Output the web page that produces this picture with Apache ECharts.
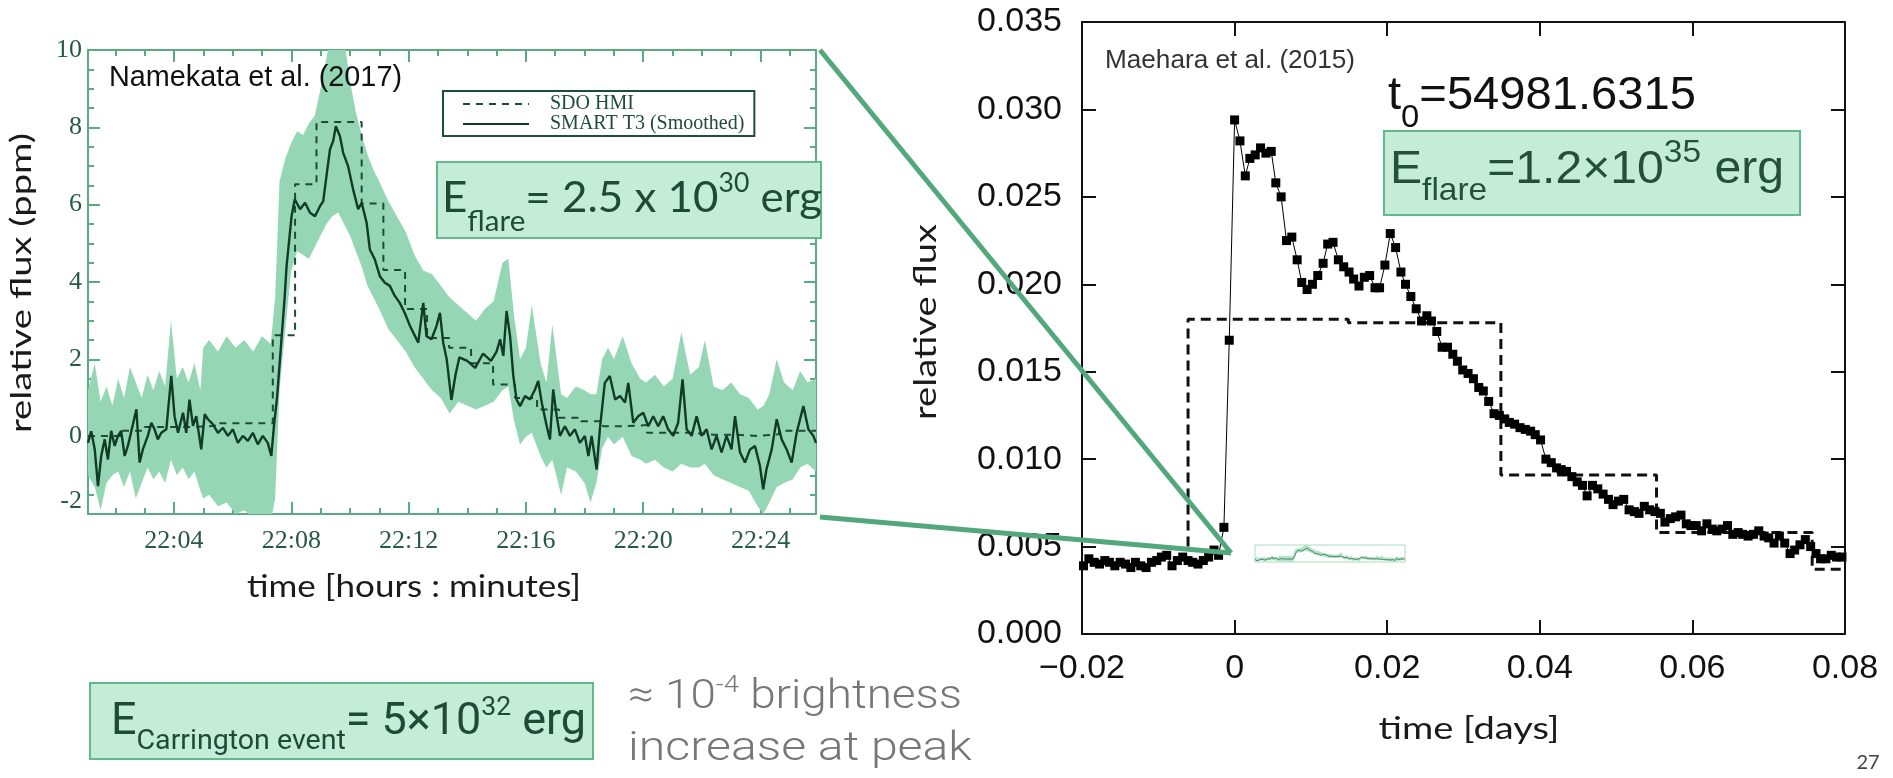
<!DOCTYPE html>
<html>
<head>
<meta charset="utf-8">
<title>Flare light curves</title>
<script src="https://cdn.jsdelivr.net/npm/echarts@6/dist/echarts.min.js"></script>
<style>
  html, body { margin: 0; padding: 0; background: #fff; }
  #main { width: 1893px; height: 778px; }
</style>
</head>
<body>
<div id="main"></div>
<script>
// left panel (Namekata et al. 2017): time in minutes after 22:00, flux in ppm
const smoothT = [
  1.07,1.18,1.3,1.41,1.52,1.64,1.75,1.86,1.98,2.09,
  2.2,2.32,2.43,2.55,2.72,2.83,2.94,3.11,3.23,3.34,
  3.45,3.57,3.74,3.91,4.02,4.14,4.31,4.42,4.53,4.65,
  4.76,4.93,5.05,5.16,5.33,5.5,5.67,5.84,6.01,6.18,
  6.35,6.52,6.69,6.86,7.03,7.2,7.32,7.41,7.52,7.64,
  7.77,7.84,8.01,8.12,8.3,8.47,8.64,8.81,8.98,9.09,
  9.2,9.32,9.43,9.52,9.66,9.77,9.94,10.11,10.28,10.4,
  10.57,10.68,10.85,11.02,11.19,11.36,11.53,11.7,11.87,12.05,
  12.16,12.33,12.5,12.61,12.78,12.95,13.07,13.18,13.3,13.46,
  13.6,13.73,14.0,14.27,14.54,14.81,15.0,15.12,15.23,15.34,
  15.46,15.57,15.68,15.8,15.97,16.14,16.31,16.42,16.54,16.71,
  16.82,16.93,17.05,17.16,17.33,17.5,17.67,17.84,18.01,18.13,
  18.24,18.41,18.52,18.69,18.86,19.04,19.21,19.38,19.49,19.66,
  19.83,20.0,20.17,20.34,20.51,20.68,20.85,21.02,21.19,21.34,
  21.48,21.65,21.82,21.99,22.16,22.33,22.5,22.67,22.84,23.01,
  23.13,23.3,23.47,23.64,23.81,23.98,24.09,24.2,24.38,24.55,
  24.72,24.89,25.06,25.23,25.46,25.63,25.8,25.89
];
const smoothV = [
  -0.16,0.14,-0.33,-1.28,-0.5,-0.07,-0.59,0.15,-0.24,0.02,
  0.15,-0.5,-0.24,0.15,0.71,-0.67,-0.33,0.02,0.36,0.19,
  -0.07,0.1,0.19,1.57,0.53,0.1,0.62,0.1,0.96,0.28,
  0.53,-0.33,0.58,0.45,0.32,0.1,0.23,0.02,0.19,-0.16,
  0.02,-0.11,0.1,-0.2,0.02,-0.16,-0.5,0.28,1.05,2.26,
  3.55,4.41,5.7,6.14,5.88,6.05,5.79,5.7,5.96,6.09,
  6.74,7.43,7.65,8.03,7.77,7.34,6.99,6.39,5.88,6.05,
  5.53,4.84,4.58,4.15,3.98,3.9,3.64,3.46,3.2,2.86,
  2.69,2.43,3.46,2.6,2.52,2.86,3.2,2.43,2.0,0.95,
  1.6,2.05,1.96,1.78,2.15,1.96,2.2,2.52,2.09,3.25,
  2.6,1.57,0.96,0.79,1.05,0.96,1.22,1.44,0.88,0.27,
  -0.07,1.22,0.53,0.02,0.27,0.02,0.19,-0.16,0.02,-0.5,
  0.02,-0.85,0.19,1.39,1.57,0.96,1.05,0.88,1.39,0.36,
  0.53,0.62,0.27,0.53,0.27,0.53,0.19,0.02,0.36,1.48,
  0.19,0.02,0.53,0.02,0.19,-0.33,0.02,-0.41,0.02,-0.33,
  0.53,-0.41,-0.67,-0.33,-0.24,-0.76,-1.36,-0.85,-0.33,0.45,
  -0.07,-0.33,-0.67,0.1,0.79,0.19,0.02,-0.16
];
// envelope of the raw (unsmoothed) SMART T3 points
const bandT = [
  1.07,1.3,1.5,1.7,1.9,2.1,2.3,2.5,2.7,2.9,
  3.1,3.3,3.5,3.7,3.9,4.1,4.3,4.5,4.7,4.9,
  5.0,5.2,5.5,5.8,6.1,6.4,6.7,7.0,7.3,7.45,
  7.6,7.8,8.0,8.2,8.4,8.6,8.8,9.0,9.2,9.4,
  9.6,9.8,10.0,10.2,10.4,10.6,10.8,11.0,11.3,11.6,
  11.9,12.2,12.5,12.8,13.1,13.4,13.7,14.0,14.3,14.6,
  14.9,15.2,15.4,15.6,15.8,16.0,16.2,16.5,16.7,16.9,
  17.2,17.4,17.7,18.0,18.2,18.4,18.6,18.8,19.0,19.3,
  19.6,19.9,20.1,20.4,20.7,21.0,21.3,21.6,21.9,22.1,
  22.4,22.7,23.0,23.3,23.6,23.9,24.1,24.3,24.55,24.8,
  25.1,25.35,25.6,25.89
];
const bandHi = [
  1.2,1.9,0.9,1.3,0.8,1.5,1.0,1.8,1.4,1.0,
  1.6,1.2,1.7,1.3,3.0,1.5,1.8,1.4,1.9,1.2,
  2.3,2.5,2.2,2.6,2.3,2.5,2.2,2.6,2.4,3.6,
  6.6,7.2,7.6,7.9,7.8,8.1,8.3,9.0,9.8,10.5,
  10.8,10.3,9.2,8.4,7.8,7.3,6.9,6.6,6.1,5.7,
  5.3,4.7,4.3,4.2,3.9,3.6,3.4,3.2,3.0,3.3,
  3.5,4.5,4.6,3.1,2.0,2.3,3.4,1.9,1.4,2.9,
  1.1,1.0,1.3,1.2,1.1,1.1,2.0,2.3,2.0,2.6,
  1.9,1.5,1.4,1.6,1.3,1.5,2.7,1.6,1.8,2.5,
  1.3,1.2,1.4,1.1,1.0,0.7,0.8,1.1,2.0,1.4,
  1.2,1.7,1.4,1.5
];
const bandLo = [
  -1.0,-1.3,-1.9,-1.2,-1.0,-0.9,-1.3,-0.9,-1.6,-1.2,
  -0.8,-1.1,-0.9,-1.2,-0.6,-1.0,-0.8,-1.1,-0.9,-1.4,
  -1.6,-1.5,-1.8,-1.7,-2.0,-1.9,-2.1,-2.2,-2.2,-1.6,
  1.2,2.8,4.3,4.8,4.7,4.6,4.9,5.2,5.5,5.7,
  5.8,5.5,5.2,4.8,4.4,3.9,3.6,3.3,2.8,2.5,
  2.2,1.8,1.5,1.2,1.0,0.6,0.9,0.8,0.7,0.8,
  0.9,1.2,1.3,0.4,-0.2,0.0,0.1,-0.5,-0.8,-0.6,
  -1.5,-0.8,-0.9,-1.2,-1.7,-1.2,-0.3,0.0,-0.2,0.0,
  -0.5,-0.6,-0.7,-0.6,-0.8,-0.9,-0.7,-0.8,-0.8,-0.7,
  -1.0,-1.1,-1.2,-1.3,-1.4,-1.8,-2.0,-1.7,-1.3,-1.2,
  -1.1,-0.8,-0.7,-0.9
];
// SDO HMI levels (each level starts at hmiT[i])
const hmiT = [1.07,2.2,3.0,4.6,5.4,7.37,8.13,8.86,10.4,11.14,11.88,12.63,13.38,14.13,14.88,
  15.63,16.38,17.13,17.88,18.63,19.38,20.13,20.88,21.63,22.38,23.13,23.88,24.63,25.89];
const hmiV = [0.02,0.15,0.25,0.28,0.35,2.62,6.53,8.14,6.03,4.31,3.3,2.55,2.3,1.9,1.35,
  1.0,0.7,0.49,0.4,0.27,0.3,0.1,0.1,0.05,0.05,0.02,0.06,0.15,0.15];

const leftXTickVals = [4, 8, 12, 16, 20, 24];
const leftXTickLabels = ['22:04', '22:08', '22:12', '22:16', '22:20', '22:24'];
const leftXMinorVals = [2, 3, 5, 6, 7, 9, 10, 11, 13, 14, 15, 17, 18, 19, 21, 22, 23, 25];
const leftYTickLabels = ['-2', '0', '2', '4', '6', '8', '10'];

// right panel (Maehara et al. 2015): time in days from t0, relative flux
const kepTime = [
  -0.0198,-0.0191,-0.0184,-0.0177,-0.0170,-0.0164,-0.0157,-0.0150,-0.0143,-0.0136,
  -0.0130,-0.0123,-0.0116,-0.0109,-0.0102,-0.0096,-0.0089,-0.0082,-0.0075,-0.0068,
  -0.0061,-0.0055,-0.0048,-0.0041,-0.0034,-0.0027,-0.0021,-0.0014,-0.0007,0.0000,
  0.0007,0.0014,0.0020,0.0027,0.0034,0.0041,0.0048,0.0054,0.0061,0.0068,
  0.0075,0.0082,0.0088,0.0095,0.0102,0.0109,0.0116,0.0122,0.0129,0.0136,
  0.0143,0.0150,0.0156,0.0163,0.0170,0.0177,0.0184,0.0190,0.0197,0.0204,
  0.0211,0.0218,0.0224,0.0231,0.0238,0.0245,0.0252,0.0258,0.0265,0.0272,
  0.0279,0.0286,0.0292,0.0299,0.0306,0.0313,0.0320,0.0326,0.0333,0.0340,
  0.0347,0.0354,0.0360,0.0367,0.0374,0.0381,0.0388,0.0394,0.0401,0.0408,
  0.0415,0.0422,0.0428,0.0435,0.0442,0.0449,0.0456,0.0462,0.0469,0.0476,
  0.0483,0.0490,0.0496,0.0503,0.0510,0.0517,0.0524,0.0530,0.0537,0.0544,
  0.0551,0.0558,0.0564,0.0571,0.0578,0.0585,0.0592,0.0598,0.0605,0.0612,
  0.0619,0.0626,0.0632,0.0639,0.0646,0.0653,0.0660,0.0666,0.0673,0.0680,
  0.0687,0.0694,0.0700,0.0707,0.0714,0.0721,0.0728,0.0734,0.0741,0.0748,
  0.0755,0.0762,0.0768,0.0775,0.0782,0.0789,0.0796
];
const kepFlux = [
  .0039,.0043,.0041,.0040,.0042,.0041,.0039,.0041,.0040,.0038,
  .0041,.0039,.0038,.0041,.0042,.0044,.0045,.0039,.0042,.0044,
  .0042,.0041,.0040,.0042,.0044,.0048,.0045,.0061,.0168,.0294,
  .0282,.0262,.0272,.0274,.0278,.0275,.0276,.0258,.0250,.0225,
  .0227,.0214,.0201,.0197,.0200,.0205,.0212,.0223,.0224,.0214,
  .0210,.0207,.0203,.0199,.0204,.0205,.0198,.0198,.0211,.0229,
  .0221,.0207,.0200,.0193,.0186,.0179,.0182,.0179,.0173,.0164,
  .0164,.0160,.0156,.0151,.0149,.0146,.0141,.0139,.0133,.0126,
  .0125,.0123,.0121,.0120,.0118,.0117,.0116,.0114,.0111,.0100,
  .0098,.0095,.0094,.0093,.0090,.0087,.0085,.0079,.0085,.0083,
  .0080,.0077,.0074,.0076,.0077,.0071,.0070,.0069,.0073,.0071,
  .0070,.0069,.0064,.0066,.0067,.0068,.0063,.0062,.0062,.0059,
  .0063,.0060,.0059,.0060,.0062,.0057,.0058,.0057,.0056,.0057,
  .0059,.0056,.0055,.0052,.0056,.0052,.0046,.0048,.0051,.0054,
  .0050,.0046,.0043,.0043,.0045,.0044,.0044
];
// dashed step (each level starts at stepTime[i])
const stepTime = [-0.0061, -0.0061, 0.0149, 0.0349, 0.0553, 0.0757, 0.0795];
const stepFlux = [0.0050, 0.0180, 0.0178, 0.0091, 0.0058, 0.0037, 0.0037];

const rightXTickLabels = ['\u22120.02', '0', '0.02', '0.04', '0.06', '0.08'];
const rightYTickLabels = ['0.000', '0.005', '0.010', '0.015', '0.020', '0.025', '0.030', '0.035'];

const pairs = (xs, ys) => xs.map((x, i) => [x, ys[i]]);

const GREEN = '#5bab82';
const BAND = '#95d7b4';
const DARK = '#0f3b27';
const BOXFILL = '#c4ecd7';
const BOXLINE = '#62b98b';

const chart = echarts.init(document.getElementById('main'));

// band between the raw envelope lines, drawn through the axes' own coordinates
function band(xi, yi, color) {
  return {
    type: 'custom', xAxisIndex: xi, yAxisIndex: yi, silent: true, clip: true, z: 1,
    data: [[bandT[0], bandLo[0]]],
    renderItem: function (params, api) {
      const pts = [];
      for (let i = 0; i < bandT.length; i++) pts.push(api.coord([bandT[i], bandHi[i]]));
      for (let i = bandT.length - 1; i >= 0; i--) pts.push(api.coord([bandT[i], bandLo[i]]));
      return { type: 'polygon', shape: { points: pts }, style: { fill: color } };
    }
  };
}

// text helpers
const mctx = document.createElement('canvas').getContext('2d');
function measure(str, font) {
  mctx.font = font;
  return mctx.measureText(str).width;
}
function run(x0, base, pieces, family, color, totalW, weight) {
  const fonts = pieces.map(p => (weight ? weight + ' ' : '') + p[1] + 'px ' + family);
  const ws = pieces.map((p, i) => measure(p[0], fonts[i]));
  const sum = ws.reduce((a, b) => a + b, 0);
  const s = totalW ? totalW / sum : 1;
  const out = [];
  let x = x0;
  pieces.forEach((p, i) => {
    out.push({
      type: 'text', x: x, y: base + (p[2] || 0) - 0.35 * p[1], scaleX: s, z: 70,
      style: { text: p[0], font: fonts[i], fill: color, align: 'left', verticalAlign: 'middle' }
    });
    x += ws[i] * s;
  });
  return out;
}
function label(str, cx, cy, size, family, color, targetW, rot) {
  const font = size + 'px ' + family;
  const s = targetW ? targetW / measure(str, font) : 1;
  return {
    type: 'text', x: cx, y: cy, rotation: rot || 0, scaleX: s, z: 70,
    style: { text: str, font: font, fill: color, align: 'center', verticalAlign: 'middle' }
  };
}
function box(x, y, w, h) {
  return { type: 'rect', shape: { x: x, y: y, width: w, height: h }, z: 60,
    style: { fill: BOXFILL, stroke: BOXLINE, lineWidth: 2 } };
}

const SANS = 'Lato';
const ARIAL = '"Liberation Sans"';
const graphics = [].concat(
  [label('relative flux (ppm)', 22, 283, 29, SANS, '#1a1a1a', 300, Math.PI / 2)],
  [label('time [hours : minutes]', 414, 587, 30, SANS, '#1a1a1a', 334)],
  [label('relative flux', 926, 322, 30, SANS, '#1a1a1a', 196, Math.PI / 2)],
  [label('time [days]', 1469, 729, 30, SANS, '#1a1a1a', 181)],
  [label('27', 1868, 763, 20, SANS, '#444')],
  run(109, 88, [['Namekata et al. (2017)', 29, 0]], ARIAL, '#111', 293),
  run(1105, 70, [['Maehara et al. (2015)', 26, 0]], ARIAL, '#333', 250),
  [box(437, 162, 384, 76)],
  run(442, 213, [['E', 43, 0], ['flare', 29, 19], ['= 2.5 x 10', 43, 0], ['30', 26, -20], [' erg', 43, 0]],
    SANS, '#1f4a38', 380),
  [{ type: 'rect', shape: { x: 823, y: 156, width: 57, height: 88 }, z: 75, style: { fill: '#fff' } }],
  run(1388, 112, [['t', 46, 0], ['0', 32, 17], ['=54981.6315', 46, 0]], ARIAL, '#111', 308),
  [box(1384, 131, 416, 84)],
  run(1390, 186, [['E', 46, 0], ['flare', 32, 16], ['=1.2\u00d710', 46, 0], ['35', 32, -22], [' erg', 46, 0]],
    ARIAL, '#254e3b', 394),
  [box(90, 683, 503, 76)],
  run(111, 738, [['E', 44, 0], ['Carrington event', 28, 14], ['= 5\u00d710', 44, 0], ['32', 26, -20], [' erg', 44, 0]],
    'Roboto', '#1f4a38', 475),
  run(628, 712, [['\u2248 10', 40, 0], ['-4', 24, -18], [' brightness', 40, 0]], 'Roboto', '#777', 334, 300),
  run(628, 764, [['increase at peak', 40, 0]], 'Roboto', '#777', 344, 300),
  [
    { type: 'line', shape: { x1: 820, y1: 50, x2: 1231, y2: 553 }, z: 80,
      style: { stroke: '#52a87a', lineWidth: 5 } },
    { type: 'line', shape: { x1: 820, y1: 517, x2: 1231, y2: 553 }, z: 80,
      style: { stroke: '#52a87a', lineWidth: 5 } }
  ]
);

const leftLine = { color: GREEN, width: 2 };
const leftLabel = { fontFamily: 'Liberation Serif', fontSize: 26, color: '#275a43' };
const blackLine = { color: '#111', width: 2 };

const option = {
  animation: false,
  backgroundColor: '#fff',
  grid: [
    { left: 88, top: 50, width: 728, height: 464 },
    { left: 1082, top: 22, width: 763, height: 612 },
    { left: 1255, top: 545, width: 150, height: 17, show: true, borderColor: '#a8dcc0', borderWidth: 1 }
  ],
  legend: {
    data: ['SDO HMI', 'SMART T3 (Smoothed)'],
    orient: 'vertical', left: 443, top: 91,
    itemWidth: 66, itemHeight: 12, itemGap: 0,
    padding: [3, 10, 2, 19],
    borderColor: '#1e4d3a', borderWidth: 2, borderRadius: 0, backgroundColor: '#fff',
    selectedMode: false,
    itemStyle: { opacity: 0 },
    textStyle: { fontFamily: 'Liberation Serif', fontSize: 20, color: '#1e4d3a', padding: [0, 0, 0, 16] }
  },
  xAxis: [
    { gridIndex: 0, type: 'value', position: 'bottom', min: 1.07, max: 25.89,
      axisLine: { show: true, onZero: false, lineStyle: leftLine },
      axisTick: { show: true, inside: true, length: 12, customValues: leftXTickVals, lineStyle: leftLine },
      axisLabel: Object.assign({ customValues: leftXTickVals, margin: 14,
        formatter: v => leftXTickLabels[leftXTickVals.indexOf(v)] }, leftLabel),
      splitLine: { show: false } },
    { gridIndex: 0, type: 'value', position: 'bottom', min: 1.07, max: 25.89,
      axisLine: { show: false, onZero: false },
      axisTick: { show: true, inside: true, length: 6, customValues: leftXMinorVals, lineStyle: leftLine },
      axisLabel: { show: false }, splitLine: { show: false } },
    { gridIndex: 0, type: 'value', position: 'top', min: 1.07, max: 25.89,
      axisLine: { show: true, onZero: false, lineStyle: leftLine },
      axisTick: { show: true, inside: true, length: 12, customValues: leftXTickVals, lineStyle: leftLine },
      axisLabel: { show: false }, splitLine: { show: false } },
    { gridIndex: 0, type: 'value', position: 'top', min: 1.07, max: 25.89,
      axisLine: { show: false, onZero: false },
      axisTick: { show: true, inside: true, length: 6, customValues: leftXMinorVals, lineStyle: leftLine },
      axisLabel: { show: false }, splitLine: { show: false } },
    { gridIndex: 1, type: 'value', position: 'bottom', min: -0.02, max: 0.08, interval: 0.02,
      axisLine: { show: true, onZero: false, lineStyle: blackLine },
      axisTick: { show: true, inside: true, length: 14, lineStyle: blackLine },
      axisLabel: { fontFamily: 'Liberation Sans', fontSize: 34, color: '#111', margin: 18,
        showMinLabel: true, showMaxLabel: true, formatter: (v, i) => rightXTickLabels[i] },
      splitLine: { show: false } },
    { gridIndex: 1, type: 'value', position: 'top', min: -0.02, max: 0.08, interval: 0.02,
      axisLine: { show: true, onZero: false, lineStyle: blackLine },
      axisTick: { show: true, inside: true, length: 14, lineStyle: blackLine },
      axisLabel: { show: false }, splitLine: { show: false } },
    { gridIndex: 2, type: 'value', min: 1.07, max: 25.89, show: false }
  ],
  yAxis: [
    { gridIndex: 0, type: 'value', position: 'left', min: -2, max: 10, interval: 2,
      axisLine: { show: true, onZero: false, lineStyle: leftLine },
      axisTick: { show: true, inside: true, length: 12, lineStyle: leftLine },
      minorTick: { show: true, splitNumber: 4, length: 6, lineStyle: leftLine },
      axisLabel: Object.assign({ margin: 6, verticalAlignMinLabel: 'bottom',
        formatter: (v, i) => leftYTickLabels[i] }, leftLabel),
      splitLine: { show: false } },
    { gridIndex: 0, type: 'value', position: 'right', min: -2, max: 10, interval: 2,
      axisLine: { show: true, onZero: false, lineStyle: leftLine },
      axisTick: { show: true, inside: true, length: 12, lineStyle: leftLine },
      minorTick: { show: true, splitNumber: 4, length: 6, lineStyle: leftLine },
      axisLabel: { show: false }, splitLine: { show: false } },
    { gridIndex: 1, type: 'value', position: 'left', min: 0, max: 0.035, interval: 0.005,
      axisLine: { show: true, onZero: false, lineStyle: blackLine },
      axisTick: { show: true, inside: true, length: 14, lineStyle: blackLine },
      axisLabel: { fontFamily: 'Liberation Sans', fontSize: 34, color: '#111', margin: 20,
        showMinLabel: true, showMaxLabel: true, formatter: (v, i) => rightYTickLabels[i] },
      splitLine: { show: false } },
    { gridIndex: 1, type: 'value', position: 'right', min: 0, max: 0.035, interval: 0.005,
      axisLine: { show: true, onZero: false, lineStyle: blackLine },
      axisTick: { show: true, inside: true, length: 14, lineStyle: blackLine },
      axisLabel: { show: false }, splitLine: { show: false } },
    { gridIndex: 2, type: 'value', min: -2, max: 10, show: false }
  ],
  series: [
    band(0, 0, BAND),
    { name: 'SDO HMI', type: 'line', xAxisIndex: 0, yAxisIndex: 0, step: 'end',
      data: pairs(hmiT, hmiV), symbol: 'none', z: 3,
      itemStyle: { color: '#1d4b36' },
      lineStyle: { color: '#1d4b36', width: 2, type: [7, 6] } },
    { name: 'SMART T3 (Smoothed)', type: 'line', xAxisIndex: 0, yAxisIndex: 0,
      data: pairs(smoothT, smoothV), symbol: 'none', z: 4,
      itemStyle: { color: DARK },
      lineStyle: { color: DARK, width: 2.4 } },
    { name: 'flare step', type: 'line', xAxisIndex: 4, yAxisIndex: 2, step: 'end',
      data: pairs(stepTime, stepFlux), symbol: 'none', z: 3,
      lineStyle: { color: '#111', width: 3, type: [10, 6] } },
    { name: 'Kepler', type: 'line', xAxisIndex: 4, yAxisIndex: 2,
      data: pairs(kepTime, kepFlux), symbol: 'rect', symbolSize: 9, z: 4,
      itemStyle: { color: '#000' },
      lineStyle: { color: '#000', width: 1 } },
    band(6, 4, '#b5e4cb'),
    { name: 'thumb', type: 'line', xAxisIndex: 6, yAxisIndex: 4,
      data: pairs(smoothT, smoothV), symbol: 'none', z: 4,
      lineStyle: { color: '#2f6e50', width: 0.8 } }
  ],
  graphic: graphics
};

chart.setOption(option);
</script>
</body>
</html>
